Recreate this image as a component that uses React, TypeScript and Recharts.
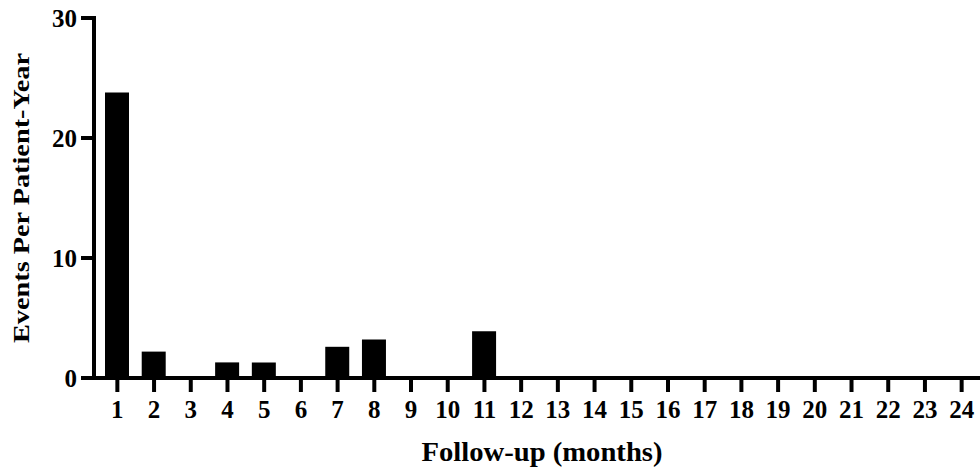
import { BarChart, Bar, XAxis, YAxis } from 'recharts'

const months = ['1', '2', '3', '4', '5', '6', '7', '8', '9', '10', '11', '12', '13', '14', '15', '16', '17', '18', '19', '20', '21', '22', '23', '24']
const eventsPerPatientYear = [23.8, 2.2, 0, 1.3, 1.3, 0, 2.6, 3.2, 0, 0, 3.9, 0, 0, 0, 0, 0, 0, 0, 0, 0, 0, 0, 0, 0]
const yTicks = [0, 10, 20, 30]

const font = '"Liberation Serif", "Times New Roman", serif'

const data = months.map((m, i) => ({ month: m, value: eventsPerPatientYear[i] }))

const tickStyle = { fill: '#000', fontSize: 25, fontWeight: 700, fontFamily: font }
const lineStyle = { stroke: '#000', strokeWidth: 4, strokeLinecap: 'square' as const }

export default function App() {
  return (
    <div style={{ position: 'absolute', left: 0, top: 0, width: 980, height: 467, background: '#fff' }}>
      <BarChart width={980} height={467} data={data} margin={{ top: 18, right: 0, bottom: 0, left: 0 }} barSize={24}>
        <XAxis
          dataKey="month"
          height={89}
          interval={0}
          padding={{ left: 5, right: 0 }}
          tick={tickStyle}
          tickSize={14}
          tickMargin={8}
          axisLine={lineStyle}
          tickLine={{ stroke: '#000', strokeWidth: 4 }}
          label={({ viewBox }: any) => (
            <text
              x={viewBox.x + viewBox.width / 2 + 5}
              y={461}
              textAnchor="middle"
              textLength={241}
              lengthAdjust="spacingAndGlyphs"
              style={{ fontSize: 27, fontWeight: 700, fontFamily: font, fill: '#000' }}
            >
              Follow-up (months)
            </text>
          )}
        />
        <YAxis
          width={94}
          domain={[0, 30]}
          ticks={yTicks}
          interval={0}
          tick={tickStyle}
          tickSize={13}
          tickMargin={4}
          axisLine={lineStyle}
          tickLine={{ stroke: '#000', strokeWidth: 4 }}
          label={({ viewBox }: any) => {
            const cy = viewBox.y + viewBox.height / 2
            return (
              <text
                x={29}
                y={cy}
                transform={`rotate(-90, 29, ${cy})`}
                textAnchor="middle"
                textLength={290}
                lengthAdjust="spacingAndGlyphs"
                style={{ fontSize: 24, fontWeight: 700, fontFamily: font, fill: '#000' }}
              >
                Events Per Patient-Year
              </text>
            )
          }}
        />
        <Bar dataKey="value" fill="#000" isAnimationActive={false} />
      </BarChart>
    </div>
  )
}
